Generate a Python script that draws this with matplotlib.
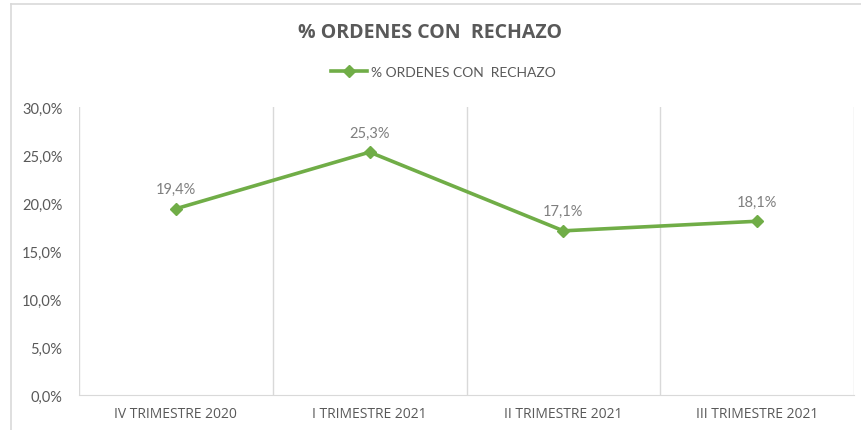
import matplotlib
matplotlib.use('Agg')
import matplotlib.pyplot as plt
from matplotlib.lines import Line2D
from matplotlib.ticker import FuncFormatter, FixedLocator

# data
categories = ['IV TRIMESTRE 2020', 'I TRIMESTRE 2021', 'II TRIMESTRE 2021', 'III TRIMESTRE 2021']
rechazo_pct = [19.4, 25.3, 17.1, 18.1]
y_ticks = [0, 5, 10, 15, 20, 25, 30]
series_name = '% ORDENES CON  RECHAZO'

green = '#70AD47'
grid_col = '#D9D9D9'
text_col = '#595959'

plt.rcParams['font.family'] = ['Lato', 'DejaVu Sans']


def pct_comma(v, pos=None):
    return f'{v:.1f}%'.replace('.', ',')


def main():
    fig = plt.figure(figsize=(8.61, 4.31), dpi=100)
    ax = fig.add_axes([79 / 861, 35 / 431, 775 / 861, 288 / 431])

    x = range(len(categories))
    ax.plot(x, rechazo_pct, color=green, linewidth=2.6, marker='D', markersize=6,
            label=series_name)

    for xi, v in zip(x, rechazo_pct):
        ax.annotate(pct_comma(v), (xi, v), xytext=(0, 9), textcoords='offset points',
                    ha='center', va='bottom', fontsize=10.5, color='#7F7F7F')

    ax.set_xlim(-0.5, len(categories) - 0.5)
    ax.set_ylim(0, 30)
    ax.set_yticks(y_ticks)
    ax.yaxis.set_major_formatter(FuncFormatter(pct_comma))
    ax.set_xticks(list(x))
    ax.set_xticklabels(categories, family=['Open Sans', 'DejaVu Sans'])

    # vertical lines at category boundaries
    ax.xaxis.set_minor_locator(FixedLocator([i - 0.5 for i in range(len(categories) + 1)]))
    ax.grid(which='minor', axis='x', color=grid_col, linewidth=1)
    ax.grid(which='major', visible=False)

    for s in ['top', 'left', 'right']:
        ax.spines[s].set_visible(False)
    ax.spines['bottom'].set_color(grid_col)
    ax.tick_params(which='both', length=0)
    ax.tick_params(axis='y', labelsize=10.5, labelcolor=text_col, pad=12)
    ax.tick_params(axis='x', labelsize=10, labelcolor=text_col, pad=8)

    fig.text(0.5, 1 - 33 / 431, series_name, ha='center', va='center',
             fontsize=14, fontweight='bold', color=text_col,
             family=['Open Sans', 'DejaVu Sans'])
    fig.legend(loc='center', bbox_to_anchor=(0.515, 1 - 73 / 431), frameon=False,
               fontsize=10, labelcolor=text_col, handlelength=2.6, handletextpad=0.3)

    # outer chart border (top and left visible in the crop)
    fig.add_artist(Line2D([11 / 861, 1], [1 - 4.5 / 431, 1 - 4.5 / 431],
                          transform=fig.transFigure, color=grid_col, linewidth=1.2))
    fig.add_artist(Line2D([11 / 861, 11 / 861], [0, 1 - 4.5 / 431],
                          transform=fig.transFigure, color=grid_col, linewidth=1.2))

    fig.savefig('out.png', dpi=100)


if __name__ == '__main__':
    main()
